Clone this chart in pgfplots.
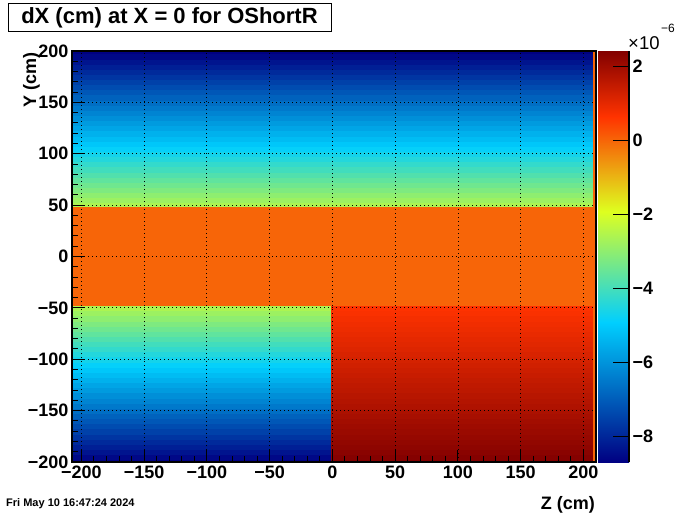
\documentclass[border=0pt]{standalone}
\usepackage{pgfplots}
\pgfplotsset{compat=1.18}
\usepackage{fontspec}
\setmainfont{Liberation Sans}
\pgfplotsset{
  colormap={rootpal}{rgb255(0pt)=(0,0,130); rgb255(34pt)=(0,207,255); rgb255(61pt)=(222,255,31); rgb255(84pt)=(255,51,0); rgb255(100pt)=(130,0,0)},
}
\newcommand{\tickfont}{\fontsize{18}{20}\selectfont\bfseries}
\begin{document}
\begin{tikzpicture}[x=1pt,y=1pt]
\path[use as bounding box] (0,0) rectangle (700,514);
\begin{axis}[
  at={(72pt,52pt)}, anchor=south west,
  width=524pt, height=411pt, scale only axis,
  xmin=-207.5, xmax=210, ymin=-200, ymax=200,
  xtick={-200,-150,-100,-50,0,50,100,150,200},
  xticklabels={−200,−150,−100,−50,0,50,100,150,200},
  ytick={-200,-150,-100,-50,0,50,100,150,200},
  yticklabels={−200,−150,−100,−50,0,50,100,150,200},
  minor tick num=4,
  tick align=inside, xtick pos=left, ytick pos=left,
  major tick length=12pt, minor tick length=6pt,
  every tick/.style={black, line width=1pt},
  grid=major, major grid style={black, line width=0.9pt, dash pattern=on 1pt off 3pt},
  axis on top,
  axis line style={line width=1.3pt},
  ticklabel style={font=\tickfont},
  colormap name=rootpal,
  point meta min=-8.70, point meta max=2.41,
  colorbar,
  colorbar/width=31pt,
  colorbar style={
    at={(parent axis.north east)}, anchor=north west, xshift=-6.5pt,
    width=31pt, height=411pt, scale only axis,
    axis x line=none, axis y line*=right,
    ytick={-8,-6,-4,-2,0,2}, yticklabels={−8,−6,−4,−2,0,2},
    minor tick num=0,
    tick align=inside, major tick length=16pt,
    every tick/.style={black, line width=1pt},
    y axis line style={line width=1.3pt},
    ticklabel style={font=\tickfont},
  },
]
% top band, Y in [47.5,200]
\addplot[surf, shader=flat corner, mesh/cols=2, point meta=\thisrow{v}] table[x=z, y=y, row sep=\\] {
z y v\\
-207.5 47.5 -2.60\\ 207.5 47.5 -2.60\\
-207.5 52.5 -2.81\\ 207.5 52.5 -2.81\\
-207.5 57.5 -3.01\\ 207.5 57.5 -3.01\\
-207.5 62.5 -3.22\\ 207.5 62.5 -3.22\\
-207.5 67.5 -3.42\\ 207.5 67.5 -3.42\\
-207.5 72.5 -3.63\\ 207.5 72.5 -3.63\\
-207.5 77.5 -3.83\\ 207.5 77.5 -3.83\\
-207.5 82.5 -4.04\\ 207.5 82.5 -4.04\\
-207.5 87.5 -4.24\\ 207.5 87.5 -4.24\\
-207.5 92.5 -4.45\\ 207.5 92.5 -4.45\\
-207.5 97.5 -4.65\\ 207.5 97.5 -4.65\\
-207.5 102.5 -4.86\\ 207.5 102.5 -4.86\\
-207.5 107.5 -5.06\\ 207.5 107.5 -5.06\\
-207.5 112.5 -5.27\\ 207.5 112.5 -5.27\\
-207.5 117.5 -5.47\\ 207.5 117.5 -5.47\\
-207.5 122.5 -5.68\\ 207.5 122.5 -5.68\\
-207.5 127.5 -5.88\\ 207.5 127.5 -5.88\\
-207.5 132.5 -6.09\\ 207.5 132.5 -6.09\\
-207.5 137.5 -6.29\\ 207.5 137.5 -6.29\\
-207.5 142.5 -6.50\\ 207.5 142.5 -6.50\\
-207.5 147.5 -6.70\\ 207.5 147.5 -6.70\\
-207.5 152.5 -6.91\\ 207.5 152.5 -6.91\\
-207.5 157.5 -7.11\\ 207.5 157.5 -7.11\\
-207.5 162.5 -7.32\\ 207.5 162.5 -7.32\\
-207.5 167.5 -7.52\\ 207.5 167.5 -7.52\\
-207.5 172.5 -7.73\\ 207.5 172.5 -7.73\\
-207.5 177.5 -7.93\\ 207.5 177.5 -7.93\\
-207.5 182.5 -8.14\\ 207.5 182.5 -8.14\\
-207.5 187.5 -8.34\\ 207.5 187.5 -8.34\\
-207.5 192.5 -8.55\\ 207.5 192.5 -8.55\\
-207.5 197.5 -8.70\\ 207.5 197.5 -8.70\\
-207.5 200 -8.70\\ 207.5 200 -8.70\\
};
% bottom left, Y in [-200,-47.5], Z < 0
\addplot[surf, shader=flat corner, mesh/cols=2, point meta=\thisrow{v}] table[x=z, y=y, row sep=\\] {
z y v\\
-207.5 -200 -8.70\\ -1.25 -200 -8.70\\
-207.5 -197.5 -8.55\\ -1.25 -197.5 -8.55\\
-207.5 -192.5 -8.34\\ -1.25 -192.5 -8.34\\
-207.5 -187.5 -8.14\\ -1.25 -187.5 -8.14\\
-207.5 -182.5 -7.93\\ -1.25 -182.5 -7.93\\
-207.5 -177.5 -7.73\\ -1.25 -177.5 -7.73\\
-207.5 -172.5 -7.52\\ -1.25 -172.5 -7.52\\
-207.5 -167.5 -7.32\\ -1.25 -167.5 -7.32\\
-207.5 -162.5 -7.11\\ -1.25 -162.5 -7.11\\
-207.5 -157.5 -6.91\\ -1.25 -157.5 -6.91\\
-207.5 -152.5 -6.70\\ -1.25 -152.5 -6.70\\
-207.5 -147.5 -6.50\\ -1.25 -147.5 -6.50\\
-207.5 -142.5 -6.29\\ -1.25 -142.5 -6.29\\
-207.5 -137.5 -6.09\\ -1.25 -137.5 -6.09\\
-207.5 -132.5 -5.88\\ -1.25 -132.5 -5.88\\
-207.5 -127.5 -5.68\\ -1.25 -127.5 -5.68\\
-207.5 -122.5 -5.47\\ -1.25 -122.5 -5.47\\
-207.5 -117.5 -5.27\\ -1.25 -117.5 -5.27\\
-207.5 -112.5 -5.06\\ -1.25 -112.5 -5.06\\
-207.5 -107.5 -4.86\\ -1.25 -107.5 -4.86\\
-207.5 -102.5 -4.65\\ -1.25 -102.5 -4.65\\
-207.5 -97.5 -4.45\\ -1.25 -97.5 -4.45\\
-207.5 -92.5 -4.24\\ -1.25 -92.5 -4.24\\
-207.5 -87.5 -4.04\\ -1.25 -87.5 -4.04\\
-207.5 -82.5 -3.83\\ -1.25 -82.5 -3.83\\
-207.5 -77.5 -3.63\\ -1.25 -77.5 -3.63\\
-207.5 -72.5 -3.42\\ -1.25 -72.5 -3.42\\
-207.5 -67.5 -3.22\\ -1.25 -67.5 -3.22\\
-207.5 -62.5 -3.01\\ -1.25 -62.5 -3.01\\
-207.5 -57.5 -2.81\\ -1.25 -57.5 -2.81\\
-207.5 -52.5 -2.60\\ -1.25 -52.5 -2.60\\
-207.5 -47.5 -2.60\\ -1.25 -47.5 -2.60\\
};
% bottom right, Y in [-200,-47.5], Z > 0
\addplot[surf, shader=flat corner, mesh/cols=2, point meta=\thisrow{v}] table[x=z, y=y, row sep=\\] {
z y v\\
-1.25 -200 2.41\\ 207.5 -200 2.41\\
-1.25 -197.5 2.36\\ 207.5 -197.5 2.36\\
-1.25 -192.5 2.30\\ 207.5 -192.5 2.30\\
-1.25 -187.5 2.24\\ 207.5 -187.5 2.24\\
-1.25 -182.5 2.18\\ 207.5 -182.5 2.18\\
-1.25 -177.5 2.13\\ 207.5 -177.5 2.13\\
-1.25 -172.5 2.07\\ 207.5 -172.5 2.07\\
-1.25 -167.5 2.01\\ 207.5 -167.5 2.01\\
-1.25 -162.5 1.95\\ 207.5 -162.5 1.95\\
-1.25 -157.5 1.89\\ 207.5 -157.5 1.89\\
-1.25 -152.5 1.83\\ 207.5 -152.5 1.83\\
-1.25 -147.5 1.77\\ 207.5 -147.5 1.77\\
-1.25 -142.5 1.71\\ 207.5 -142.5 1.71\\
-1.25 -137.5 1.65\\ 207.5 -137.5 1.65\\
-1.25 -132.5 1.59\\ 207.5 -132.5 1.59\\
-1.25 -127.5 1.54\\ 207.5 -127.5 1.54\\
-1.25 -122.5 1.48\\ 207.5 -122.5 1.48\\
-1.25 -117.5 1.42\\ 207.5 -117.5 1.42\\
-1.25 -112.5 1.36\\ 207.5 -112.5 1.36\\
-1.25 -107.5 1.30\\ 207.5 -107.5 1.30\\
-1.25 -102.5 1.24\\ 207.5 -102.5 1.24\\
-1.25 -97.5 1.18\\ 207.5 -97.5 1.18\\
-1.25 -92.5 1.12\\ 207.5 -92.5 1.12\\
-1.25 -87.5 1.06\\ 207.5 -87.5 1.06\\
-1.25 -82.5 1.00\\ 207.5 -82.5 1.00\\
-1.25 -77.5 0.95\\ 207.5 -77.5 0.95\\
-1.25 -72.5 0.89\\ 207.5 -72.5 0.89\\
-1.25 -67.5 0.83\\ 207.5 -67.5 0.83\\
-1.25 -62.5 0.77\\ 207.5 -62.5 0.77\\
-1.25 -57.5 0.71\\ 207.5 -57.5 0.71\\
-1.25 -52.5 0.65\\ 207.5 -52.5 0.65\\
-1.25 -47.5 0.65\\ 207.5 -47.5 0.65\\
};
% middle band, Y in [-47.5,47.5]
\addplot[surf, shader=flat corner, mesh/cols=2, point meta=\thisrow{v}] table[x=z, y=y, row sep=\\] {
z y v\\
-207.5 -47.5 0\\ 207.5 -47.5 0\\
-207.5 47.5 0\\ 207.5 47.5 0\\
};
% last column strip
\addplot[surf, shader=flat corner, mesh/cols=2, point meta=\thisrow{v}] table[x=z, y=y, row sep=\\] {
z y v\\
207.5 -200 0\\ 210 -200 0\\
207.5 200 0\\ 210 200 0\\
};
\end{axis}
\draw[line width=1pt] (8,510) rectangle (331,482);
\node[font=\fontsize{22}{24}\selectfont\bfseries] at (169.5,496) {dX (cm) at X = 0 for OShortR};
\node[anchor=base west, inner sep=0pt, font=\fontsize{11}{12}\selectfont\bfseries] at (6,8) {Fri May 10 16:47:24 2024};
\node[anchor=base east, inner sep=0pt, font=\fontsize{18}{20}\selectfont\bfseries] at (595,5) {Z (cm)};
\node[anchor=base east, inner sep=0pt, rotate=90, font=\fontsize{18}{20}\selectfont\bfseries] at (36,462) {Y (cm)};
\node[anchor=base west, inner sep=0pt, font=\fontsize{18.5}{20}\selectfont] at (628,464) {×10};
\node[anchor=base west, inner sep=0pt, font=\fontsize{12}{14}\selectfont] at (661,481) {−6};
\end{tikzpicture}
\end{document}
